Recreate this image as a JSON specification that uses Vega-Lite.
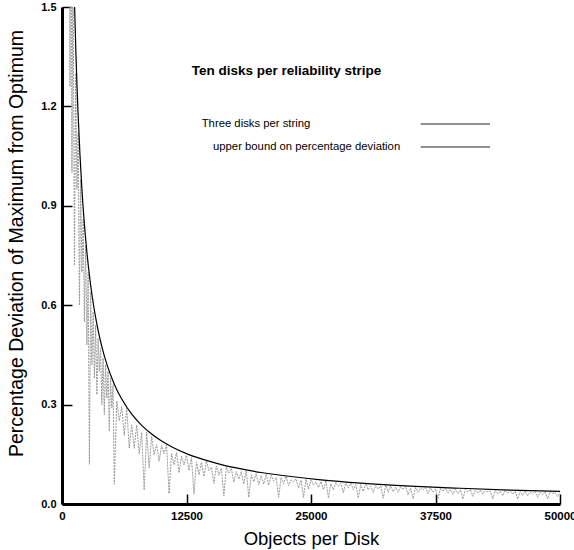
{
  "$schema": "https://vega.github.io/schema/vega-lite/v6.json",
  "autosize": "none",
  "width": 498,
  "height": 497,
  "padding": {"left": 62, "top": 7, "right": 14, "bottom": 46},
  "background": "white",
  "config": {
    "view": {"stroke": null},
    "font": "Liberation Sans",
    "axis": {
      "grid": false,
      "ticks": true,
      "domainColor": "black",
      "domainWidth": 3,
      "tickColor": "black",
      "tickWidth": 1.5,
      "tickSize": -10,
      "labelFont": "Liberation Sans",
      "labelFontWeight": "bold",
      "labelFontSize": 11,
      "labelColor": "black",
      "titleFont": "Liberation Sans",
      "titleFontWeight": "normal",
      "titleColor": "black"
    }
  },
  "datasets": {
    "series": [
      {"x": 700, "y": 2.6}, {"x": 800, "y": 1.26}, {"x": 900, "y": 2.1}, {"x": 1000, "y": 1.0},
      {"x": 1100, "y": 1.7}, {"x": 1250, "y": 0.72}, {"x": 1375, "y": 1.30}, {"x": 1500, "y": 0.95},
      {"x": 1625, "y": 1.12}, {"x": 1750, "y": 0.60}, {"x": 1875, "y": 0.98}, {"x": 2000, "y": 0.70},
      {"x": 2125, "y": 0.86}, {"x": 2250, "y": 0.55}, {"x": 2375, "y": 0.78}, {"x": 2500, "y": 0.48},
      {"x": 2625, "y": 0.70}, {"x": 2750, "y": 0.12}, {"x": 2875, "y": 0.64}, {"x": 3000, "y": 0.42},
      {"x": 3125, "y": 0.58}, {"x": 3250, "y": 0.38}, {"x": 3375, "y": 0.54}, {"x": 3500, "y": 0.33},
      {"x": 3625, "y": 0.50}, {"x": 3750, "y": 0.40}, {"x": 3875, "y": 0.47}, {"x": 4000, "y": 0.30},
      {"x": 4125, "y": 0.44}, {"x": 4250, "y": 0.27}, {"x": 4375, "y": 0.42}, {"x": 4500, "y": 0.32},
      {"x": 4625, "y": 0.40}, {"x": 4750, "y": 0.22}, {"x": 4875, "y": 0.38}, {"x": 5000, "y": 0.29},
      {"x": 5125, "y": 0.36}, {"x": 5250, "y": 0.06}, {"x": 5500, "y": 0.311}, {"x": 5750, "y": 0.251},
      {"x": 6000, "y": 0.294}, {"x": 6250, "y": 0.207}, {"x": 6500, "y": 0.289}, {"x": 6750, "y": 0.169},
      {"x": 7000, "y": 0.239}, {"x": 7250, "y": 0.168}, {"x": 7500, "y": 0.238}, {"x": 7750, "y": 0.152},
      {"x": 8000, "y": 0.216}, {"x": 8250, "y": 0.042}, {"x": 8500, "y": 0.217}, {"x": 8750, "y": 0.109},
      {"x": 9000, "y": 0.203}, {"x": 9250, "y": 0.148}, {"x": 9500, "y": 0.180}, {"x": 9750, "y": 0.129},
      {"x": 10000, "y": 0.177}, {"x": 10250, "y": 0.152}, {"x": 10500, "y": 0.179}, {"x": 10750, "y": 0.031},
      {"x": 11000, "y": 0.152}, {"x": 11250, "y": 0.118}, {"x": 11500, "y": 0.155}, {"x": 11750, "y": 0.094},
      {"x": 12000, "y": 0.144}, {"x": 12250, "y": 0.118}, {"x": 12500, "y": 0.147}, {"x": 12750, "y": 0.101},
      {"x": 13000, "y": 0.140}, {"x": 13250, "y": 0.030}, {"x": 13500, "y": 0.127}, {"x": 13750, "y": 0.088},
      {"x": 14000, "y": 0.126}, {"x": 14250, "y": 0.083}, {"x": 14500, "y": 0.130}, {"x": 14750, "y": 0.100},
      {"x": 15000, "y": 0.111}, {"x": 15250, "y": 0.062}, {"x": 15500, "y": 0.115}, {"x": 15750, "y": 0.087},
      {"x": 16000, "y": 0.108}, {"x": 16250, "y": 0.024}, {"x": 16500, "y": 0.112}, {"x": 16750, "y": 0.093},
      {"x": 17000, "y": 0.107}, {"x": 17250, "y": 0.066}, {"x": 17500, "y": 0.098}, {"x": 17750, "y": 0.075},
      {"x": 18000, "y": 0.098}, {"x": 18250, "y": 0.060}, {"x": 18500, "y": 0.102}, {"x": 18750, "y": 0.020},
      {"x": 19000, "y": 0.088}, {"x": 19250, "y": 0.067}, {"x": 19500, "y": 0.092}, {"x": 19750, "y": 0.058},
      {"x": 20000, "y": 0.086}, {"x": 20250, "y": 0.060}, {"x": 20500, "y": 0.090}, {"x": 20750, "y": 0.057},
      {"x": 21000, "y": 0.087}, {"x": 21250, "y": 0.070}, {"x": 21500, "y": 0.080}, {"x": 21750, "y": 0.020},
      {"x": 22000, "y": 0.080}, {"x": 22250, "y": 0.061}, {"x": 22500, "y": 0.084}, {"x": 22750, "y": 0.055},
      {"x": 23000, "y": 0.073}, {"x": 23250, "y": 0.067}, {"x": 23500, "y": 0.076}, {"x": 23750, "y": 0.048},
      {"x": 24000, "y": 0.072}, {"x": 24250, "y": 0.020}, {"x": 24500, "y": 0.075}, {"x": 24750, "y": 0.045},
      {"x": 25000, "y": 0.073}, {"x": 25250, "y": 0.057}, {"x": 25500, "y": 0.067}, {"x": 25750, "y": 0.050},
      {"x": 26000, "y": 0.068}, {"x": 26250, "y": 0.043}, {"x": 26500, "y": 0.071}, {"x": 26750, "y": 0.018},
      {"x": 27000, "y": 0.062}, {"x": 27250, "y": 0.043}, {"x": 27500, "y": 0.065}, {"x": 27750, "y": 0.053},
      {"x": 28000, "y": 0.062}, {"x": 28250, "y": 0.034}, {"x": 28500, "y": 0.065}, {"x": 28750, "y": 0.048},
      {"x": 29000, "y": 0.063}, {"x": 29250, "y": 0.043}, {"x": 29500, "y": 0.058}, {"x": 29750, "y": 0.018},
      {"x": 30000, "y": 0.059}, {"x": 30250, "y": 0.038}, {"x": 30500, "y": 0.062}, {"x": 30750, "y": 0.043},
      {"x": 31000, "y": 0.054}, {"x": 31250, "y": 0.035}, {"x": 31500, "y": 0.057}, {"x": 31750, "y": 0.045},
      {"x": 32000, "y": 0.054}, {"x": 32250, "y": 0.017}, {"x": 32500, "y": 0.057}, {"x": 32750, "y": 0.035},
      {"x": 33000, "y": 0.055}, {"x": 33250, "y": 0.037}, {"x": 33500, "y": 0.051}, {"x": 33750, "y": 0.035},
      {"x": 34000, "y": 0.052}, {"x": 34250, "y": 0.043}, {"x": 34500, "y": 0.055}, {"x": 34750, "y": 0.027},
      {"x": 35000, "y": 0.048}, {"x": 35250, "y": 0.016}, {"x": 35500, "y": 0.050}, {"x": 35750, "y": 0.035},
      {"x": 36000, "y": 0.048}, {"x": 36250, "y": 0.043}, {"x": 36500, "y": 0.050}, {"x": 36750, "y": 0.031},
      {"x": 37000, "y": 0.049}, {"x": 37250, "y": 0.036}, {"x": 37500, "y": 0.046}, {"x": 37750, "y": 0.016},
      {"x": 38000, "y": 0.047}, {"x": 38250, "y": 0.038}, {"x": 38500, "y": 0.049}, {"x": 38750, "y": 0.033},
      {"x": 39000, "y": 0.043}, {"x": 39250, "y": 0.029}, {"x": 39500, "y": 0.045}, {"x": 39750, "y": 0.031},
      {"x": 40000, "y": 0.043}, {"x": 40250, "y": 0.015}, {"x": 40500, "y": 0.045}, {"x": 40750, "y": 0.036},
      {"x": 41000, "y": 0.044}, {"x": 41250, "y": 0.023}, {"x": 41500, "y": 0.041}, {"x": 41750, "y": 0.033},
      {"x": 42000, "y": 0.042}, {"x": 42250, "y": 0.030}, {"x": 42500, "y": 0.044}, {"x": 42750, "y": 0.036},
      {"x": 43000, "y": 0.039}, {"x": 43250, "y": 0.015}, {"x": 43500, "y": 0.041}, {"x": 43750, "y": 0.030},
      {"x": 44000, "y": 0.039}, {"x": 44250, "y": 0.025}, {"x": 44500, "y": 0.041}, {"x": 44750, "y": 0.032},
      {"x": 45000, "y": 0.041}, {"x": 45250, "y": 0.029}, {"x": 45500, "y": 0.038}, {"x": 45750, "y": 0.015},
      {"x": 46000, "y": 0.038}, {"x": 46250, "y": 0.026}, {"x": 46500, "y": 0.040}, {"x": 46750, "y": 0.025},
      {"x": 47000, "y": 0.036}, {"x": 47250, "y": 0.031}, {"x": 47500, "y": 0.038}, {"x": 47750, "y": 0.020},
      {"x": 48000, "y": 0.036}, {"x": 48250, "y": 0.028}, {"x": 48500, "y": 0.038}, {"x": 48750, "y": 0.015},
      {"x": 49000, "y": 0.037}, {"x": 49250, "y": 0.032}, {"x": 49500, "y": 0.035}, {"x": 49750, "y": 0.023},
      {"x": 50000, "y": 0.035}
    ],
    "bound": [
      {"x": 1250, "y": 1.52}, {"x": 1300, "y": 1.462}, {"x": 1400, "y": 1.357}, {"x": 1500, "y": 1.267},
      {"x": 1600, "y": 1.188}, {"x": 1800, "y": 1.056}, {"x": 2000, "y": 0.95}, {"x": 2250, "y": 0.844},
      {"x": 2500, "y": 0.76}, {"x": 2750, "y": 0.691}, {"x": 3000, "y": 0.633}, {"x": 3500, "y": 0.543},
      {"x": 4000, "y": 0.475}, {"x": 4500, "y": 0.422}, {"x": 5000, "y": 0.38}, {"x": 5500, "y": 0.345},
      {"x": 6000, "y": 0.317}, {"x": 7000, "y": 0.271}, {"x": 8000, "y": 0.2375}, {"x": 9000, "y": 0.211},
      {"x": 10000, "y": 0.19}, {"x": 11000, "y": 0.173}, {"x": 12500, "y": 0.152}, {"x": 14000, "y": 0.136},
      {"x": 16000, "y": 0.119}, {"x": 18000, "y": 0.106}, {"x": 20000, "y": 0.095}, {"x": 23000, "y": 0.083},
      {"x": 26000, "y": 0.073}, {"x": 30000, "y": 0.063}, {"x": 35000, "y": 0.054}, {"x": 40000, "y": 0.0475},
      {"x": 45000, "y": 0.042}, {"x": 50000, "y": 0.038}
    ],
    "texts": [
      {"x": 13022, "y": 1.3068, "label": "Ten disks per reliability stripe", "kind": "title"},
      {"x": 14026, "y": 1.1469, "label": "Three disks per string", "kind": "legend"},
      {"x": 15161, "y": 1.0775, "label": "upper bound on percentage deviation", "kind": "legend"}
    ],
    "legendLines": [
      {"x": 36014, "x2": 42972, "y": 1.1469},
      {"x": 36014, "x2": 42972, "y": 1.0775}
    ]
  },
  "layer": [
    {
      "data": {"name": "series"},
      "mark": {"type": "line", "color": "#999999", "strokeWidth": 1, "strokeDash": [2, 1], "clip": true},
      "encoding": {
        "x": {"field": "x", "type": "quantitative",
              "scale": {"domain": [0, 50000], "nice": false, "zero": false},
              "axis": {"values": [0, 12500, 25000, 37500, 50000], "format": "d", "title": "Objects per Disk", "labelPadding": 16, "labelFontSize": 11.5, "titlePadding": 8, "titleFontSize": 18.5, "labelFlush": false}},
        "y": {"field": "y", "type": "quantitative",
              "scale": {"domain": [0, 1.5], "nice": false},
              "axis": {"values": [0, 0.3, 0.6, 0.9, 1.2, 1.5], "format": ".1f", "title": "Percentage Deviation of Maximum from Optimum", "labelPadding": 16, "titlePadding": 14, "titleFontSize": 19.5, "titleY": 236, "labelFlush": false}}
      }
    },
    {
      "data": {"name": "bound"},
      "mark": {"type": "line", "color": "black", "strokeWidth": 1.2, "interpolate": "monotone", "clip": true},
      "encoding": {
        "x": {"field": "x", "type": "quantitative"},
        "y": {"field": "y", "type": "quantitative"}
      }
    },
    {
      "data": {"name": "texts"},
      "transform": [{"filter": "datum.kind == 'title'"}],
      "mark": {"type": "text", "align": "left", "baseline": "middle", "fontSize": 13.5, "fontWeight": "bold", "color": "black"},
      "encoding": {
        "x": {"field": "x", "type": "quantitative"},
        "y": {"field": "y", "type": "quantitative"},
        "text": {"field": "label"}
      }
    },
    {
      "data": {"name": "texts"},
      "transform": [{"filter": "datum.kind == 'legend'"}],
      "mark": {"type": "text", "align": "left", "baseline": "middle", "fontSize": 11.3, "color": "black"},
      "encoding": {
        "x": {"field": "x", "type": "quantitative"},
        "y": {"field": "y", "type": "quantitative"},
        "text": {"field": "label"}
      }
    },
    {
      "data": {"name": "legendLines"},
      "mark": {"type": "rule", "color": "#222222", "strokeWidth": 1},
      "encoding": {
        "x": {"field": "x", "type": "quantitative"},
        "x2": {"field": "x2"},
        "y": {"field": "y", "type": "quantitative"}
      }
    }
  ]
}
